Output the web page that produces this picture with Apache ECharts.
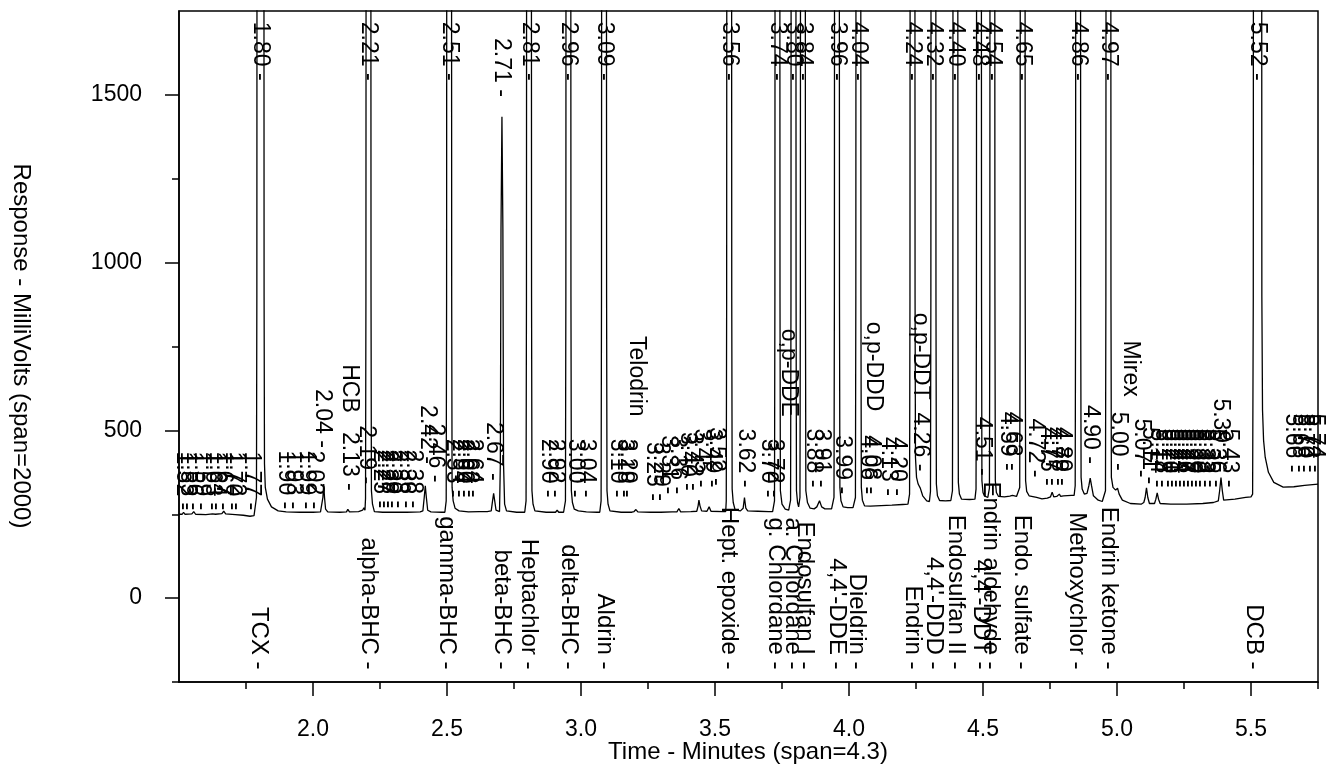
<!DOCTYPE html>
<html>
<head>
<meta charset="utf-8">
<script src="https://cdn.jsdelivr.net/npm/echarts@6/dist/echarts.min.js"></script>
<style>
html,body{margin:0;padding:0;background:#fff;}
#chart{width:1330px;height:767px;}
</style>
</head>
<body>
<div id="chart"></div>
<script>
// ---- Axis ranges and ticks (minutes / millivolts) ----
const X_MIN = 1.5, X_MAX = 5.75;
const Y_MIN = -250, Y_MAX = 1750;
const xMajorTicks = [2.0, 2.5, 3.0, 3.5, 4.0, 4.5, 5.0, 5.5];
const xMinorTicks = [1.75, 2.25, 2.75, 3.25, 3.75, 4.25, 4.75, 5.25, 5.75];
const yMajorTicks = [0, 500, 1000, 1500];
const yMinorTicks = [-250, 250, 750, 1250];

// ---- Detector trace: [time (min), response (mV)] ----
// 6000 marks the off-scale tops of the large peaks
const trace = [
[1.500,250],[1.512,250],[1.517,256],[1.522,250],
[1.548,251],[1.555,258],[1.562,250],
[1.600,249],[1.625,251],[1.630,256],[1.636,250],
[1.660,252],[1.667,259],[1.674,251],
[1.710,249],[1.740,247],[1.765,244],[1.780,246],
[1.786,247],[1.789,300],[1.7905,900],[1.793,6000],[1.815,6000],[1.8175,900],[1.819,400],[1.822,330],[1.830,295],[1.845,272],[1.870,260],
[1.900,257],[1.950,256],[2.000,256],[2.028,257],
[2.034,262],[2.037,300],[2.040,340],[2.043,300],[2.047,265],[2.055,257],
[2.100,256],[2.125,257],[2.130,265],[2.136,257],
[2.170,258],[2.185,262],[2.190,269],[2.194,262],
[2.196,297],[2.1975,900],[2.200,6000],[2.214,6000],[2.2165,900],[2.218,320],[2.222,280],[2.229,258],
[2.260,256],[2.300,256],[2.350,256],[2.400,257],
[2.410,260],[2.415,300],[2.419,335],[2.423,300],[2.428,262],[2.440,257],
[2.480,256],[2.492,256],
[2.497,290],[2.4985,900],[2.501,6000],[2.515,6000],[2.5175,900],[2.519,330],[2.523,290],[2.530,268],[2.545,260],
[2.580,257],[2.620,258],[2.650,258],
[2.665,260],[2.670,290],[2.674,312],[2.678,290],[2.683,262],
[2.696,258],[2.699,400],[2.7015,1100],[2.705,1435],[2.7085,1100],[2.711,400],[2.715,280],[2.722,260],
[2.760,256],[2.790,256],
[2.795,290],[2.7965,900],[2.799,6000],[2.813,6000],[2.8155,900],[2.817,320],[2.821,280],[2.828,260],
[2.870,256],[2.905,256],[2.911,262],[2.917,256],[2.935,256],
[2.942,290],[2.9435,900],[2.946,6000],[2.960,6000],[2.9625,900],[2.964,320],[2.968,285],[2.975,265],[2.990,260],
[3.020,257],[3.060,256],[3.070,256],
[3.075,290],[3.0765,900],[3.079,6000],[3.093,6000],[3.0955,900],[3.097,320],[3.101,280],[3.108,260],
[3.150,256],[3.190,256],[3.198,258],[3.205,264],[3.212,257],
[3.260,256],[3.285,256],[3.292,260],[3.298,256],
[3.340,257],[3.358,257],[3.365,267],[3.372,257],
[3.410,258],[3.432,259],[3.437,275],[3.440,292],[3.444,275],[3.450,260],
[3.470,259],[3.478,272],[3.485,259],
[3.530,258],[3.540,258],
[3.542,290],[3.5435,900],[3.546,6000],[3.560,6000],[3.5625,900],[3.564,325],[3.568,285],[3.575,263],
[3.595,260],[3.605,268],[3.610,300],[3.615,268],[3.622,260],
[3.660,259],[3.700,258],[3.715,258],
[3.722,290],[3.7235,900],[3.726,6000],[3.740,6000],[3.7425,900],[3.744,320],[3.750,280],[3.762,265],[3.775,262],
[3.782,292],[3.7835,900],[3.786,6000],[3.800,6000],[3.8025,900],[3.804,320],[3.808,285],[3.812,272],
[3.817,300],[3.8185,900],[3.821,6000],[3.835,6000],[3.8375,900],[3.839,320],[3.845,285],[3.855,268],
[3.870,266],[3.880,272],[3.890,290],[3.898,272],[3.910,266],[3.935,266],
[3.944,300],[3.9455,900],[3.948,6000],[3.962,6000],[3.9645,900],[3.966,330],[3.970,290],[3.978,272],
[3.995,270],[4.015,270],
[4.024,300],[4.0255,900],[4.028,6000],[4.042,6000],[4.0445,900],[4.046,330],[4.050,292],[4.058,275],
[4.080,274],[4.120,276],[4.160,277],[4.200,279],[4.220,280],
[4.226,310],[4.2275,900],[4.230,6000],[4.244,6000],[4.2465,900],[4.248,420],[4.252,360],[4.258,340],[4.266,328],[4.275,305],[4.290,290],
[4.300,288],
[4.304,318],[4.3055,900],[4.308,6000],[4.322,6000],[4.3245,900],[4.326,340],[4.330,305],[4.338,291],
[4.360,290],[4.380,291],
[4.386,320],[4.3875,900],[4.390,6000],[4.404,6000],[4.4065,900],[4.408,345],[4.412,310],[4.420,295],
[4.450,294],[4.470,295],
[4.474,325],[4.4755,900],[4.478,6000],[4.492,6000],[4.4945,900],[4.496,350],[4.500,315],[4.505,305],[4.512,300],[4.518,300],
[4.524,328],[4.5255,900],[4.528,6000],[4.542,6000],[4.5445,900],[4.546,350],[4.550,315],[4.558,303],
[4.580,302],[4.600,304],[4.610,306],[4.625,303],
[4.637,330],[4.6385,900],[4.641,6000],[4.655,6000],[4.6575,900],[4.659,350],[4.663,318],[4.672,305],
[4.700,300],[4.720,296],[4.740,298],[4.752,302],[4.758,316],[4.764,302],[4.775,303],[4.785,310],[4.790,303],[4.800,305],[4.830,306],[4.840,306],
[4.844,335],[4.8455,900],[4.848,6000],[4.862,6000],[4.8645,900],[4.866,360],[4.870,325],[4.878,310],
[4.888,312],[4.895,335],[4.900,358],[4.905,335],[4.912,305],[4.930,292],[4.945,288],[4.952,288],
[4.957,320],[4.9585,900],[4.961,6000],[4.975,6000],[4.9775,900],[4.979,360],[4.985,330],[4.995,322],[5.002,328],[5.008,310],[5.020,292],
[5.050,282],[5.090,280],[5.100,285],[5.105,300],[5.110,329],[5.115,300],[5.121,282],
[5.140,282],[5.145,295],[5.150,314],[5.155,295],[5.161,282],
[5.200,280],[5.260,280],[5.320,282],[5.360,285],[5.378,290],[5.383,320],[5.388,359],[5.393,320],[5.398,292],
[5.440,295],[5.480,300],[5.500,302],
[5.506,310],[5.5085,900],[5.511,6000],[5.538,6000],[5.5405,900],[5.543,560],[5.547,470],[5.553,420],[5.565,375],[5.585,345],[5.620,331],[5.660,332],[5.700,336],[5.750,340]
];

// ---- Retention-time labels of the off-scale peaks (written down from the top edge) ----
const offscaleTime = [1.804,2.207,2.508,2.806,2.953,3.086,3.553,3.733,3.793,3.828,3.955,4.035,4.237,4.315,4.397,4.485,4.535,4.648,4.855,4.968,5.525];
const offscaleText = ['1.80 -','2.21 -','2.51 -','2.81 -','2.96 -','3.09 -','3.56 -','3.74 -','3.80 -','3.84 -','3.96 -','4.04 -','4.24 -','4.32 -','4.40 -','4.48 -','4.54 -','4.65 -','4.86 -','4.97 -','5.52 -'];

// ---- Labels of the on-scale peaks: time, text, response where the text ends ----
const peakLabelTime = [
1.515,1.530,1.555,1.585,1.625,1.640,1.665,1.700,1.715,1.770,
1.895,1.925,1.975,2.005,2.033,2.135,2.200,
2.250,2.265,2.280,2.295,2.320,2.350,2.375,2.425,2.455,
2.525,2.545,2.565,2.585,2.600,2.672,2.703,
2.880,2.905,2.980,3.020,3.135,3.160,3.172,3.205,
3.270,3.295,3.325,3.360,3.395,3.420,3.450,3.490,3.505,3.612,
3.700,3.720,3.775,3.868,3.895,3.975,4.070,4.085,4.090,4.145,4.180,4.266,
4.496,4.590,4.610,4.695,4.740,4.760,4.780,4.795,
4.900,5.006,5.050,5.090,5.120,5.150,
5.170,5.190,5.205,5.220,5.235,5.250,5.265,5.280,5.295,5.310,5.330,5.350,5.370,
5.385,5.420,5.655,5.680,5.700,5.720,5.740
];
const peakLabelText = [
'1.52 -','1.53 -','1.56 -','1.59 -','1.63 -','1.64 -','1.67 -','1.70 -','1.72 -','1.77 -',
'1.90 -','1.93 -','1.99 -','2.02 -','2.04 -','HCB   2.13 -','2.19 -',
'2.25 -','2.27 -','2.28 -','2.30 -','2.33 -','2.36 -','2.38 -','2.42 -','2.46 -',
'2.53 -','2.54 -','2.60 -','2.62 -','2.64 -','2.67 -','2.71 -',
'2.90 -','2.92 -','3.00 -','3.04 -','3.10 -','3.18 -','3.20 -','Telodrin',
'3.25 -','3.29 -','3.31 -','3.36 -','3.40 -','3.42 -','3.45 -','3.49 -','3.52 -','3.62 -',
'3.70 -','3.72 -','o,p-DDE','3.88 -','3.91 -','3.99 -','4.06 -','4.08 -','o,p-DDD','4.13 -','4.20 -','o,p-DDT  4.26 -',
'4.51 -','4.59 -','4.63 -','4.72 -','4.75 -','4.77 -','4.78 -','4.80 -',
'4.90 -','5.00 -','Mirex','5.07 -','5.11 -','5.14 -',
'5.18 -','5.20 -','5.21 -','5.23 -','5.24 -','5.26 -','5.27 -','5.29 -','5.30 -','5.32 -','5.33 -','5.35 -','5.36 -',
'5.39 -','5.43 -','5.66 -','5.68 -','5.70 -','5.72 -','5.74 -'
];
const peakLabelEnd = [
262,262,262,262,262,262,262,262,262,262,
265,265,265,265,448,320,340,
268,268,268,268,268,268,268,400,345,
300,300,300,300,300,350,1494,
300,300,300,300,300,300,300,541,
290,290,310,310,320,320,330,330,335,330,
300,300,540,330,330,310,310,310,557,305,305,378,
365,380,380,360,335,335,335,335,
400,380,600,360,340,330,
330,330,330,330,330,330,330,330,330,330,330,330,330,
420,330,375,375,375,375,375
];

// ---- Compound names written under the baseline ----
const nameTime = [1.797,2.207,2.500,2.705,2.805,2.953,3.088,3.551,3.726,3.791,3.834,3.955,4.030,4.236,4.315,4.397,4.490,4.528,4.645,4.850,4.967,5.510];
const nameText = ['TCX -','alpha-BHC -','gamma-BHC -','beta-BHC -','Heptachlor -','delta-BHC -','Aldrin -','Hept. epoxide -','g. Chlordane -','a. Chlordane -','Endosulfan I -',"4,4'-DDE -",'Dieldrin -','Endrin -',"4,4'-DDD -",'Endosulfan II -',"4,4'-DDT -",'Endrin aldehyde -','Endo. sulfate -','Methoxychlor -','Endrin ketone -','DCB -'];
const NAME_END = -213;          // response level where the names end
const OFFSCALE_START = 1718;     // response level where off-scale labels start

const FONT = '"Liberation Sans", Arial, Helvetica, sans-serif';

function textRender(texts, size, align) {
  return function (params, api) {
    const p = api.coord([api.value(0), api.value(1)]);
    return {
      type: 'text',
      x: p[0], y: p[1],
      rotation: -Math.PI / 2,
      silent: true,
      style: {
        text: texts[params.dataIndex],
        fill: '#000',
        font: size + 'px ' + FONT,
        align: align,
        verticalAlign: 'middle'
      }
    };
  };
}

const chart = echarts.init(document.getElementById('chart'), null, {renderer: 'canvas'});
const axisCommon = {
  type: 'value',
  splitLine: {show: false},
  axisLine: {show: true, onZero: false, lineStyle: {color: '#000', width: 1.5}},
};
const option = {
  animation: false,
  backgroundColor: '#fff',
  grid: {left: 179, right: 12, top: 11, bottom: 85, show: true, borderColor: '#000', borderWidth: 1.5, backgroundColor: 'transparent'},
  xAxis: [
    Object.assign({}, axisCommon, {
      min: X_MIN, max: X_MAX, position: 'bottom',
      axisTick: {show: true, customValues: xMajorTicks, length: 14, lineStyle: {color: '#000', width: 1.5}},
      axisLabel: {show: true, customValues: xMajorTicks, formatter: v => Number(v).toFixed(1), color: '#000', fontSize: 23, fontFamily: FONT, margin: 36}
    }),
    Object.assign({}, axisCommon, {
      min: X_MIN, max: X_MAX, position: 'bottom',
      axisLine: {show: false, onZero: false},
      axisTick: {show: true, customValues: xMinorTicks, length: 7, lineStyle: {color: '#000', width: 1.5}},
      axisLabel: {show: false}
    })
  ],
  yAxis: [
    Object.assign({}, axisCommon, {
      min: Y_MIN, max: Y_MAX, position: 'left',
      axisTick: {show: true, customValues: yMajorTicks, length: 14, lineStyle: {color: '#000', width: 1.5}},
      axisLabel: {show: true, customValues: yMajorTicks, formatter: v => String(v), color: '#000', fontSize: 23, fontFamily: FONT, margin: 37}
    }),
    Object.assign({}, axisCommon, {
      min: Y_MIN, max: Y_MAX, position: 'left',
      axisLine: {show: false, onZero: false},
      axisTick: {show: true, customValues: yMinorTicks, length: 7, lineStyle: {color: '#000', width: 1.5}},
      axisLabel: {show: false}
    })
  ],
  graphic: [
    {type: 'text', x: 748, y: 752, silent: true,
     style: {text: 'Time - Minutes (span=4.3)', fill: '#000', font: '24px ' + FONT, align: 'center', verticalAlign: 'middle'}},
    {type: 'text', x: 21, y: 346, rotation: -Math.PI / 2, silent: true,
     style: {text: 'Response - MilliVolts (span=2000)', fill: '#000', font: '24px ' + FONT, align: 'center', verticalAlign: 'middle'}}
  ],
  series: [
    {
      type: 'line', xAxisIndex: 0, yAxisIndex: 0,
      data: trace, showSymbol: false, symbol: 'none', clip: true, silent: true,
      lineStyle: {color: '#000', width: 1.3}, z: 3
    },
    {
      type: 'custom', coordinateSystem: 'cartesian2d', xAxisIndex: 0, yAxisIndex: 0, silent: true, z: 5,
      renderItem: textRender(offscaleText, 23, 'left'),
      data: offscaleTime.map(t => [t, OFFSCALE_START])
    },
    {
      type: 'custom', coordinateSystem: 'cartesian2d', xAxisIndex: 0, yAxisIndex: 0, silent: true, z: 5,
      renderItem: textRender(peakLabelText, 23, 'right'),
      data: peakLabelTime.map((t, i) => [t, peakLabelEnd[i]])
    },
    {
      type: 'custom', coordinateSystem: 'cartesian2d', xAxisIndex: 0, yAxisIndex: 0, silent: true, z: 5,
      renderItem: textRender(nameText, 24, 'right'),
      data: nameTime.map(t => [t, NAME_END])
    }
  ]
};
chart.setOption(option);
</script>
</body>
</html>
